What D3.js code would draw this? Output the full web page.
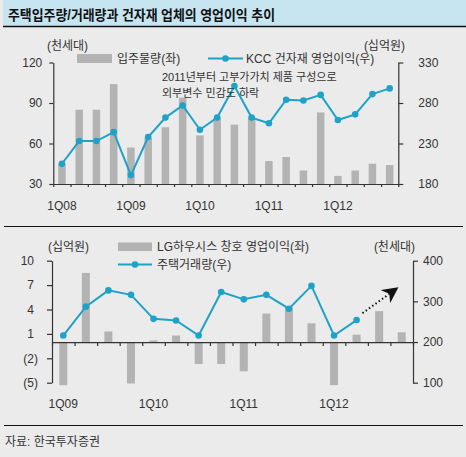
<!DOCTYPE html>
<html><head><meta charset="utf-8">
<script src="https://cdn.jsdelivr.net/npm/d3@7/dist/d3.min.js"></script>
<style>
html,body{margin:0;padding:0;background:#ebebeb;}
svg{display:block;}
text{font-family:"Liberation Sans","Noto Sans CJK KR",sans-serif;fill:#333;}
</style></head>
<body>
<svg id="c" width="466" height="457"></svg>
<script>
// ---- Data ----
const topQuarters = ["1Q08","2Q08","3Q08","4Q08","1Q09","2Q09","3Q09","4Q09","1Q10","2Q10","3Q10","4Q10","1Q11","2Q11","3Q11","4Q11","1Q12","2Q12","3Q12","4Q12"];
const moveIn = [45,85,85,104,57,64,72,94,66,79,74,79,47,50,40,83,36,40,45,44];       // 입주물량 (천세대, 좌)
const kccProfit = [205,233,233,244,191,238,262,277,247,262,301,262,255,284,283,290,259,266,291,298]; // KCC 건자재 영업이익 (십억원, 우)
const topLabels = ["1Q08","1Q09","1Q10","1Q11","1Q12"];
const topLeftTicks = [30,60,90,120];
const topRightTicks = [180,230,280,330];

const botQuarters = ["1Q09","2Q09","3Q09","4Q09","1Q10","2Q10","3Q10","4Q10","1Q11","2Q11","3Q11","4Q11","1Q12","2Q12","3Q12","4Q12"];
const lgProfit = [-5.3,8.5,1.3,-5.1,0.2,0.8,-2.7,-2.7,-3.6,3.5,4.3,2.3,-5.3,0.9,3.8,1.2]; // LG하우시스 창호 영업이익 (십억원, 좌)
const housingTx = [216,287,327,316,257,253,216,323,305,316,282,338,216,254];          // 주택거래량 (천세대, 우)
const botLabels = ["1Q09","1Q10","1Q11","1Q12"];
const botLeftTicks = [10,7,4,1,-2,-5];
const botRightTicks = [100,200,300,400];
const arrowFrom = {q:13.76, v:271}, arrowTo = {q:15.24, v:330};

const BAR = "#b3b3b3", LINE = "#1fa2c8", AX = "#333";

const svg = d3.select("#c");

// ---- Frame ----
svg.append("rect").attr("x",3).attr("y",0).attr("width",463).attr("height",26).attr("fill","#c6e5f1");
svg.append("line").attr("x1",3).attr("x2",466).attr("y1",26.5).attr("y2",26.5).attr("stroke","#111").attr("stroke-width",1.5);
svg.append("text").attr("x",8).attr("y",20).attr("font-size",14).attr("font-weight","bold")
  .attr("textLength",267).attr("lengthAdjust","spacingAndGlyphs").style("fill","#111")
  .text("주택입주량/거래량과 건자재 업체의 영업이익 추이");
svg.append("line").attr("x1",4).attr("x2",463).attr("y1",226.5).attr("y2",226.5).attr("stroke","#111").attr("stroke-width",1);
svg.append("line").attr("x1",4).attr("x2",463).attr("y1",425.5).attr("y2",425.5).attr("stroke","#111").attr("stroke-width",1);
svg.append("text").attr("x",5).attr("y",446).attr("font-size",12).text("자료: 한국투자증권");

function styleAxis(g){
  g.selectAll("path,line").attr("stroke",AX).attr("stroke-width",1.2);
  g.selectAll("text").attr("font-size",12).style("fill","#333").attr("font-family",null);
}

// ---- Top chart ----
{
  const x = d3.scaleBand().domain(topQuarters).range([53.3,398.3]);
  const xi = d3.scaleLinear().domain([0,topQuarters.length]).range([53.3,398.3]);
  const yL = d3.scaleLinear().domain([30,120]).range([184,62.5]);
  const yR = d3.scaleLinear().domain([180,330]).range([184,62.5]);
  const bw = 7.5;

  svg.append("g").selectAll("rect").data(moveIn).join("rect")
    .attr("x",(d,i)=>x(topQuarters[i])+x.bandwidth()/2-bw/2).attr("width",bw)
    .attr("y",d=>yL(d)).attr("height",d=>yL(30)-yL(d)).attr("fill",BAR);

  const gx = svg.append("g").attr("transform","translate(0,184)")
    .call(d3.axisBottom(xi).tickValues(d3.range(0,topQuarters.length+1)).tickFormat("").tickSize(3).tickSizeOuter(0));
  styleAxis(gx);
  svg.append("g").selectAll("text").data(topLabels).join("text")
    .attr("x",d=>x(d)+x.bandwidth()/2).attr("y",210).attr("text-anchor","middle").attr("font-size",12).text(d=>d);

  const gl = svg.append("g").attr("transform","translate(53.3,0)")
    .call(d3.axisLeft(yL).tickValues(topLeftTicks).tickSize(4).tickPadding(7).tickSizeOuter(0));
  styleAxis(gl);
  const gr = svg.append("g").attr("transform","translate(398.3,0)")
    .call(d3.axisRight(yR).tickValues(topRightTicks).tickSize(5).tickPadding(15).tickSizeOuter(0));
  styleAxis(gr);

  const line = d3.line().x((d,i)=>x(topQuarters[i])+x.bandwidth()/2).y(d=>yR(d));
  svg.append("path").datum(kccProfit).attr("d",line).attr("fill","none").attr("stroke",LINE).attr("stroke-width",2);
  svg.append("g").selectAll("circle").data(kccProfit).join("circle")
    .attr("cx",(d,i)=>x(topQuarters[i])+x.bandwidth()/2).attr("cy",d=>yR(d)).attr("r",3.3).attr("fill",LINE);

  svg.append("text").attr("x",47).attr("y",50).attr("font-size",12).text("(천세대)");
  svg.append("text").attr("x",405).attr("y",50).attr("font-size",12).attr("text-anchor","end").text("(십억원)");
  svg.append("rect").attr("x",77).attr("y",54).attr("width",35).attr("height",9).attr("fill",BAR);
  svg.append("text").attr("x",117).attr("y",63).attr("font-size",12).text("입주물량(좌)");
  svg.append("line").attr("x1",208).attr("x2",243).attr("y1",58.5).attr("y2",58.5).attr("stroke",LINE).attr("stroke-width",2);
  svg.append("circle").attr("cx",225.5).attr("cy",58.5).attr("r",3.3).attr("fill",LINE);
  svg.append("text").attr("x",246).attr("y",63).attr("font-size",12).text("KCC 건자재 영업이익(우)");

  svg.append("text").attr("x",162).attr("y",81).attr("font-size",11).text("2011년부터 고부가가치 제품 구성으로");
  svg.append("text").attr("x",162).attr("y",97).attr("font-size",11).text("외부변수 민감도 하락");
}

// ---- Bottom chart ----
{
  const x = d3.scaleBand().domain(botQuarters).range([52,413]);
  const xi = d3.scaleLinear().domain([0,botQuarters.length]).range([52,413]);
  const yL = d3.scaleLinear().domain([-5,10]).range([382.7,260.7]);
  const yR = d3.scaleLinear().domain([100,400]).range([382.7,260.7]);
  const bw = 8;

  svg.append("g").selectAll("rect").data(lgProfit).join("rect")
    .attr("x",(d,i)=>x(botQuarters[i])+x.bandwidth()/2-bw/2).attr("width",bw)
    .attr("y",d=>yL(Math.max(0,d))).attr("height",d=>Math.abs(yL(d)-yL(0))).attr("fill",BAR);

  const gx = svg.append("g").attr("transform",`translate(0,${yL(0)})`)
    .call(d3.axisBottom(xi).tickValues(d3.range(0,botQuarters.length+1)).tickFormat("").tickSize(4).tickSizeOuter(0));
  styleAxis(gx);
  svg.append("g").selectAll("text").data(botLabels).join("text")
    .attr("x",d=>x(d)+x.bandwidth()/2).attr("y",408).attr("text-anchor","middle").attr("font-size",12).text(d=>d);

  const gl = svg.append("g").attr("transform","translate(52,0)")
    .call(d3.axisLeft(yL).tickValues(botLeftTicks).tickSize(5).tickPadding(13).tickSizeOuter(0)
      .tickFormat(d=>d<0?`(${-d})`:d));
  styleAxis(gl);
  gl.selectAll(".tick text").attr("dx",d=>d<0?4:0);
  const gr = svg.append("g").attr("transform","translate(413,0)")
    .call(d3.axisRight(yR).tickValues(botRightTicks).tickSize(5).tickPadding(5).tickSizeOuter(0));
  styleAxis(gr);

  const cx = (d,i)=>x(botQuarters[i])+x.bandwidth()/2;
  const line = d3.line().x(cx).y(d=>yR(d));
  svg.append("path").datum(housingTx).attr("d",line).attr("fill","none").attr("stroke",LINE).attr("stroke-width",2);
  svg.append("g").selectAll("circle").data(housingTx).join("circle")
    .attr("cx",cx).attr("cy",d=>yR(d)).attr("r",3.3).attr("fill",LINE);

  // dotted trend arrow
  const defs = svg.append("defs");
  defs.append("marker").attr("id","ah").attr("viewBox","0 0 10 10").attr("refX",8).attr("refY",5)
    .attr("markerWidth",8).attr("markerHeight",8).attr("orient","auto")
    .append("path").attr("d","M0,0 L10,5 L0,10 L3,5 Z").attr("fill","#111");
  svg.append("line").attr("x1",xi(arrowFrom.q)).attr("y1",yR(arrowFrom.v))
    .attr("x2",xi(arrowTo.q)).attr("y2",yR(arrowTo.v))
    .attr("stroke","#111").attr("stroke-width",2).attr("stroke-dasharray","1.5,2.5").attr("marker-end","url(#ah)");

  svg.append("text").attr("x",48).attr("y",251).attr("font-size",12).text("(십억원)");
  svg.append("text").attr("x",415).attr("y",251).attr("font-size",12).attr("text-anchor","end").text("(천세대)");
  svg.append("rect").attr("x",118).attr("y",242.5).attr("width",34).attr("height",8.5).attr("fill",BAR);
  svg.append("text").attr("x",157).attr("y",251).attr("font-size",12).text("LG하우시스 창호 영업이익(좌)");
  svg.append("line").attr("x1",118).attr("x2",152).attr("y1",264.5).attr("y2",264.5).attr("stroke",LINE).attr("stroke-width",2);
  svg.append("circle").attr("cx",135).attr("cy",264.5).attr("r",3.3).attr("fill",LINE);
  svg.append("text").attr("x",157).attr("y",269).attr("font-size",12).text("주택거래량(우)");
}
</script>
</body></html>
